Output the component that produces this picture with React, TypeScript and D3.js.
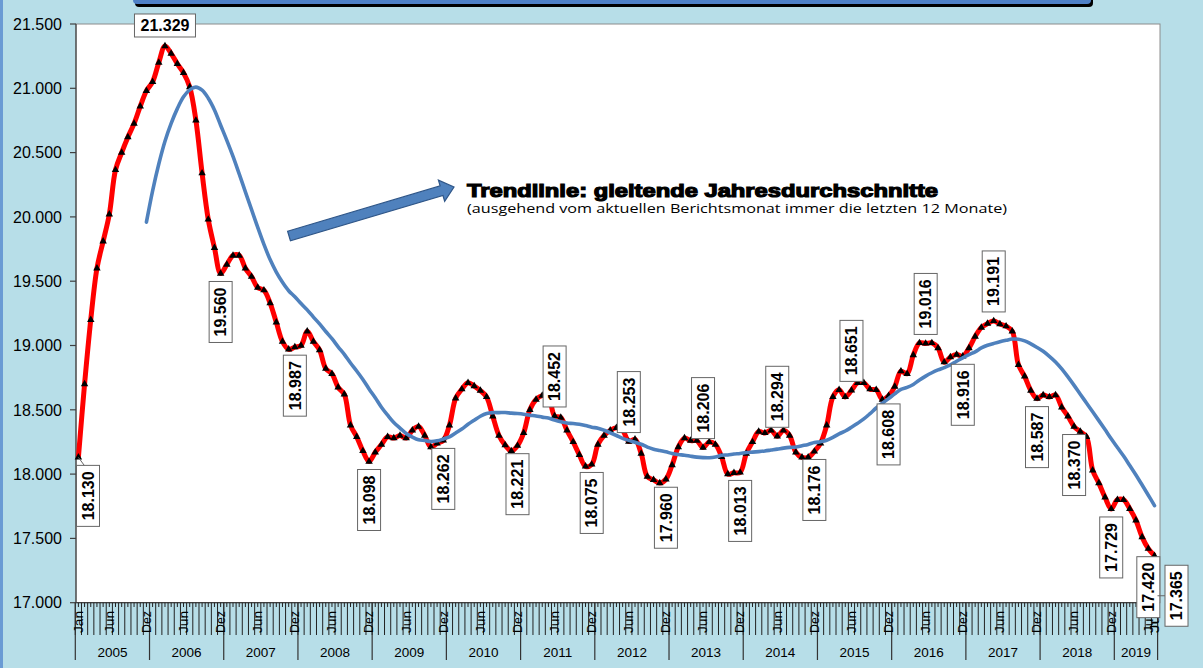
import React from 'react';
import * as d3 from 'd3';

const W = 1203;
const H = 668;

const years = ['2005', '2006', '2007', '2008', '2009', '2010', '2011', '2012', '2013', '2014', '2015', '2016', '2017', '2018', '2019'];
const monthNames = ['Jan', 'Feb', 'Mär', 'Apr', 'Mai', 'Jun', 'Jul', 'Aug', 'Sep', 'Okt', 'Nov', 'Dez'];
const shownMonths = ['Jun', 'Dez'];

// monthly values Jan 2005 .. Jul 2019
const values = [
  18130, 18700, 19200, 19600, 19810, 20020, 20365, 20500, 20620, 20725, 20860, 20980,
  21050, 21200, 21329, 21270, 21190, 21120, 21010, 20750, 20340, 19980, 19760, 19560,
  19630, 19700, 19700, 19600, 19535, 19450, 19430, 19330, 19180, 19030, 18970, 18987,
  19000, 19110, 19030, 18965, 18820, 18780, 18675, 18620, 18380, 18290, 18180, 18098,
  18170, 18230, 18290, 18280, 18300, 18280, 18340, 18370, 18300, 18210, 18240, 18262,
  18380, 18590, 18660, 18710, 18685, 18650, 18600, 18450, 18300, 18225, 18180, 18221,
  18320, 18500, 18580, 18610, 18600, 18452, 18440, 18340, 18250, 18150, 18060, 18075,
  18230, 18300, 18340, 18360, 18340, 18253, 18270, 18160, 17980, 17955, 17930, 17960,
  18070, 18210, 18280, 18260, 18260, 18206, 18250, 18230, 18135, 18000, 18010, 18013,
  18160, 18250, 18330, 18320, 18340, 18294, 18340, 18300, 18170, 18130, 18130, 18176,
  18240, 18380, 18600, 18655, 18600, 18651, 18710, 18710, 18660, 18655, 18580, 18608,
  18680, 18800, 18780, 18925, 19020, 19016, 19020, 18980, 18870, 18910, 18930, 18916,
  18980, 19070, 19140, 19170, 19191, 19167, 19150, 19110, 18850, 18760, 18650, 18587,
  18615, 18600, 18615, 18520, 18450, 18370, 18330, 18290, 18030, 17930, 17820, 17729,
  17800, 17800, 17730, 17640, 17510, 17420, 17365,
];

// trend line (12-month moving average), starts Dec 2005
const trendStart = 11;
const trend = [
  19959, 20203, 20411, 20588, 20727, 20842, 20934, 20988, 21009, 20985, 20923, 20832, 20713,
  20595, 20470, 20334, 20195, 20057, 19918, 19786, 19668, 19571, 19492, 19426, 19379,
  19326, 19277, 19221, 19168, 19109, 19053, 18990, 18931, 18864, 18802, 18736, 18662,
  18593, 18520, 18458, 18401, 18358, 18316, 18288, 18267, 18261, 18254, 18259, 18273,
  18290, 18320, 18351, 18387, 18419, 18450, 18471, 18478, 18478, 18479, 18474, 18471,
  18466, 18458, 18452, 18443, 18436, 18420, 18407, 18397, 18393, 18387, 18377, 18365,
  18357, 18341, 18321, 18300, 18278, 18262, 18247, 18232, 18210, 18194, 18183, 18173,
  18160, 18152, 18147, 18139, 18132, 18128, 18127, 18133, 18146, 18149, 18156, 18160,
  18168, 18171, 18175, 18180, 18187, 18194, 18202, 18208, 18211, 18221, 18231, 18245,
  18252, 18263, 18285, 18313, 18335, 18364, 18395, 18429, 18470, 18514, 18551, 18587,
  18624, 18659, 18674, 18697, 18732, 18762, 18788, 18810, 18828, 18849, 18878, 18904,
  18929, 18951, 18981, 19002, 19016, 19029, 19040, 19050, 19049, 19036, 19013, 18985,
  18955, 18916, 18872, 18818, 18756, 18690, 18621, 18553, 18485, 18416, 18346, 18275,
  18207, 18140, 18067, 17993, 17915, 17836, 17755,
];

const yTicks = [17000, 17500, 18000, 18500, 19000, 19500, 20000, 20500, 21000, 21500];

// data labels: index into values, placement
const dataLabels = [
  { i: 0, pos: 'below' }, { i: 14, pos: 'top' }, { i: 23, pos: 'below' }, { i: 35, pos: 'below' },
  { i: 47, pos: 'below' }, { i: 59, pos: 'below' }, { i: 71, pos: 'below' }, { i: 77, pos: 'above' },
  { i: 83, pos: 'below' }, { i: 89, pos: 'above' }, { i: 95, pos: 'below' }, { i: 101, pos: 'above' },
  { i: 107, pos: 'below' }, { i: 113, pos: 'above' }, { i: 119, pos: 'below' }, { i: 125, pos: 'above' },
  { i: 131, pos: 'below' }, { i: 137, pos: 'above' }, { i: 143, pos: 'below' }, { i: 148, pos: 'above' },
  { i: 155, pos: 'below' }, { i: 161, pos: 'below' }, { i: 167, pos: 'below' }, { i: 173, pos: 'below' },
  { i: 174, pos: 'right' },
];

const trendTitle = 'Trendlinie: gleitende Jahresdurchschnitte';
const trendSub = '(ausgehend  vom aktuellen Berichtsmonat  immer  die letzten 12 Monate)';

const de = d3.formatLocale({ decimal: ',', thousands: '.', grouping: [3], currency: ['', ' €'] });
const fmt = de.format(',.0f');

const FONT = '"Liberation Sans", Arial, sans-serif';
const BG = '#b7dee8';

export default function App() {
  const plotL = 76, plotR = 1160, plotT = 24, plotB = 602.7;
  const categories = years.flatMap((yr) => monthNames.map((m) => ({ yr, m }))).slice(0, values.length);
  const idx = d3.range(values.length);
  const x = d3.scaleBand<number>().domain(idx).range([75.3, 1157.6]).paddingInner(0).paddingOuter(0);
  const bw = x.bandwidth();
  const cx = (i: number) => (x(i) as number) + bw / 2;
  const y = d3.scaleLinear().domain([17000, 21500]).range([plotB, plotT]);

  const redLine = d3.line<number>().x((_, i) => cx(i)).y((d) => y(d)).curve(d3.curveCatmullRom.alpha(0.5));
  const blueLine = d3.line<number>().x((_, i) => cx(i + trendStart)).y((d) => y(d)).curve(d3.curveCatmullRom.alpha(0.5));
  const tri = d3.symbol().type(d3.symbolTriangle).size(24)();

  const boundaries = d3.range(values.length + 1).map((i) => (i < values.length ? (x(i) as number) : 75.3 + values.length * bw));
  const yearStarts = years.map((_, k) => k * 12);

  // arrow geometry
  const ax0 = 289, ay0 = 236, ax1 = 454, ay1 = 187;
  const aLen = Math.hypot(ax1 - ax0, ay1 - ay0);
  const aAng = (Math.atan2(ay1 - ay0, ax1 - ax0) * 180) / Math.PI;
  const hl = 13, sw = 5, hw = 11;
  const arrowPath = `M0,${-sw} L${aLen - hl},${-sw} L${aLen - hl},${-hw} L${aLen},0 L${aLen - hl},${hw} L${aLen - hl},${sw} L0,${sw} Z`;

  const boxLen = 61, boxTh = 23;

  return (
    <div style={{ position: 'absolute', left: 0, top: 0 }}>
      <svg width={W} height={H} style={{ display: 'block' }} fontFamily={FONT}>
        <rect x={0} y={0} width={W} height={H} fill={BG} />
        <rect x={0} y={0} width={3} height={H} fill="#6a9bd4" />
        {/* title banner (cut off) */}
        <rect x={135} y={-12} width={958} height={19} rx={4} fill="#000" />
        <rect x={133} y={-14} width={958} height={18} rx={4} fill="#4f81c7" />

        {/* plot area */}
        <rect x={plotL} y={plotT} width={plotR - plotL} height={plotB - plotT} fill="#fff" stroke="#8c8c8c" strokeWidth={1} />

        {/* y axis */}
        <line x1={plotL} x2={plotL} y1={plotT} y2={plotB} stroke="#404040" strokeWidth={1.2} />
        {yTicks.map((t) => (
          <g key={t}>
            <line x1={70} x2={plotL} y1={y(t)} y2={y(t)} stroke="#404040" strokeWidth={1.2} />
            <text x={62} y={y(t)} dy="0.36em" textAnchor="end" fontSize={16} fill="#000">{fmt(t)}</text>
          </g>
        ))}

        {/* x axis */}
        <line x1={plotL} x2={plotR} y1={plotB} y2={plotB} stroke="#404040" strokeWidth={1.2} />
        {boundaries.map((bx, i) => (
          <line key={'b' + i} x1={bx} x2={bx} y1={plotB} y2={635} stroke="#222" strokeWidth={1} />
        ))}
        {idx.map((i) => (
          <line key={'c' + i} x1={cx(i)} x2={cx(i)} y1={plotB} y2={607} stroke="#222" strokeWidth={1} />
        ))}
        {[...yearStarts, values.length].map((s) => {
          const bx = boundaries[s];
          return <line key={'y' + s} x1={bx} x2={bx} y1={plotB} y2={660} stroke="#333" strokeWidth={1.2} />;
        })}
        {categories.map((c, i) => {
          const show = i === 0 || i === values.length - 1 || shownMonths.includes(c.m);
          if (!show) return null;
          return (
            <text key={'m' + i} transform={`translate(${cx(i)},611) rotate(-90)`} textAnchor="end" dy="0.36em" fontSize={12} textLength={22} lengthAdjust="spacingAndGlyphs" fill="#000">
              {c.m}
            </text>
          );
        })}
        {years.map((yr, k) => {
          const s = k * 12;
          const e = Math.min(values.length, s + 12);
          const mid = (boundaries[s] + boundaries[e]) / 2;
          return (
            <text key={yr} x={mid} y={657} textAnchor="middle" fontSize={13.5} fill="#000">{yr}</text>
          );
        })}

        {/* series */}
        <path d={redLine(values) || ''} fill="none" stroke="#ff0000" strokeWidth={5} strokeLinejoin="round" />
        {values.map((v, i) => (
          <path key={'t' + i} d={tri || ''} transform={`translate(${cx(i)},${y(v)})`} fill="#000" />
        ))}
        <path d={blueLine(trend) || ''} fill="none" stroke="#4f81bd" strokeWidth={3.6} strokeLinecap="round" strokeLinejoin="round" />

        {/* arrow + annotation */}
        <g transform={`translate(${ax0},${ay0}) rotate(${aAng})`}>
          <path d={arrowPath} fill="#4f81bd" stroke="#2f5688" strokeWidth={1.2} />
        </g>
        <text x={467} y={197} fontSize={19} fontWeight="bold" fill="#000" stroke="#000" strokeWidth={1.2} textLength={471} lengthAdjust="spacingAndGlyphs">{trendTitle}</text>
        <text x={467} y={213} fontSize={13.5} fontFamily='"Open Sans", "Noto Sans", sans-serif' fill="#000" textLength={540} lengthAdjust="spacingAndGlyphs">{trendSub}</text>

        {/* data labels */}
        {dataLabels.map(({ i, pos }) => {
          const px = cx(i);
          const py = y(values[i]);
          const txt = fmt(values[i]);
          if (pos === 'top') {
            return (
              <g key={'l' + i}>
                <rect x={px - boxLen / 2} y={py - 9 - boxTh} width={boxLen} height={boxTh} fill="#fff" stroke="#666" />
                <text x={px} y={py - 9 - boxTh / 2} dy="0.36em" textAnchor="middle" fontSize={16} fontWeight="bold" fill="#000">{txt}</text>
              </g>
            );
          }
          let bcx = px;
          let bcy = pos === 'below' ? py + 8 + boxLen / 2 : py - 9 - boxLen / 2;
          let leader: React.ReactNode = null;
          if (i === 0) {
            bcx = Math.max(px, plotL + 12);
            leader = <line x1={px} y1={py} x2={bcx - 3} y2={py + 9} stroke="#666" />;
          }
          if (pos === 'right') {
            bcx = px + 22;
            bcy = py + 40;
            leader = <line x1={px + 3} y1={bcy} x2={bcx - boxTh / 2} y2={bcy} stroke="#666" />;
          }
          return (
            <g key={'l' + i}>
              {leader}
              <rect x={bcx - boxTh / 2} y={bcy - boxLen / 2} width={boxTh} height={boxLen} fill="#fff" stroke="#666" />
              <text transform={`translate(${bcx},${bcy}) rotate(-90)`} dy="0.36em" textAnchor="middle" fontSize={16} fontWeight="bold" fill="#000">{txt}</text>
            </g>
          );
        })}
      </svg>
    </div>
  );
}
